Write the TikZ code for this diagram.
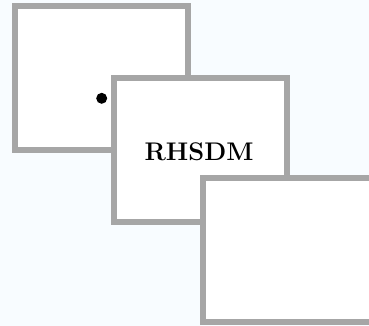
\documentclass[tikz,border=0pt]{standalone}
\usepackage{fontspec}
\setmainfont{Latin Modern Roman}
\definecolor{bgblue}{RGB}{248,252,255}
\definecolor{boxgray}{RGB}{166,166,166}
\tikzset{
  sqbox/.style={draw=boxgray, fill=white, line width=6pt, minimum width=173pt, minimum height=144pt, inner sep=0pt, outer sep=0pt},
  bulletdot/.style={circle, fill=black, minimum size=11pt, inner sep=0pt},
  bigbold/.style={font=\fontsize{25.5pt}{30pt}\selectfont\bfseries}
}
\begin{document}
\begin{tikzpicture}[x=1pt,y=-1pt]
\useasboundingbox (0,0) rectangle (369,326);
\fill[bgblue] (0,0) rectangle (369,326);
\clip (0,0) rectangle (369,326);
\node[sqbox] (s1) at (101.5,78) {};
\node[bulletdot] (dot) at (101.7,98.3) {};
\node[sqbox] (s2) at (200,150) {};
\node[bigbold, inner sep=0pt, anchor=base] (t) at (199,160.7) {RHSDM};
\node[sqbox] (s3) at (289.5,249.5) {};
\end{tikzpicture}
\end{document}
